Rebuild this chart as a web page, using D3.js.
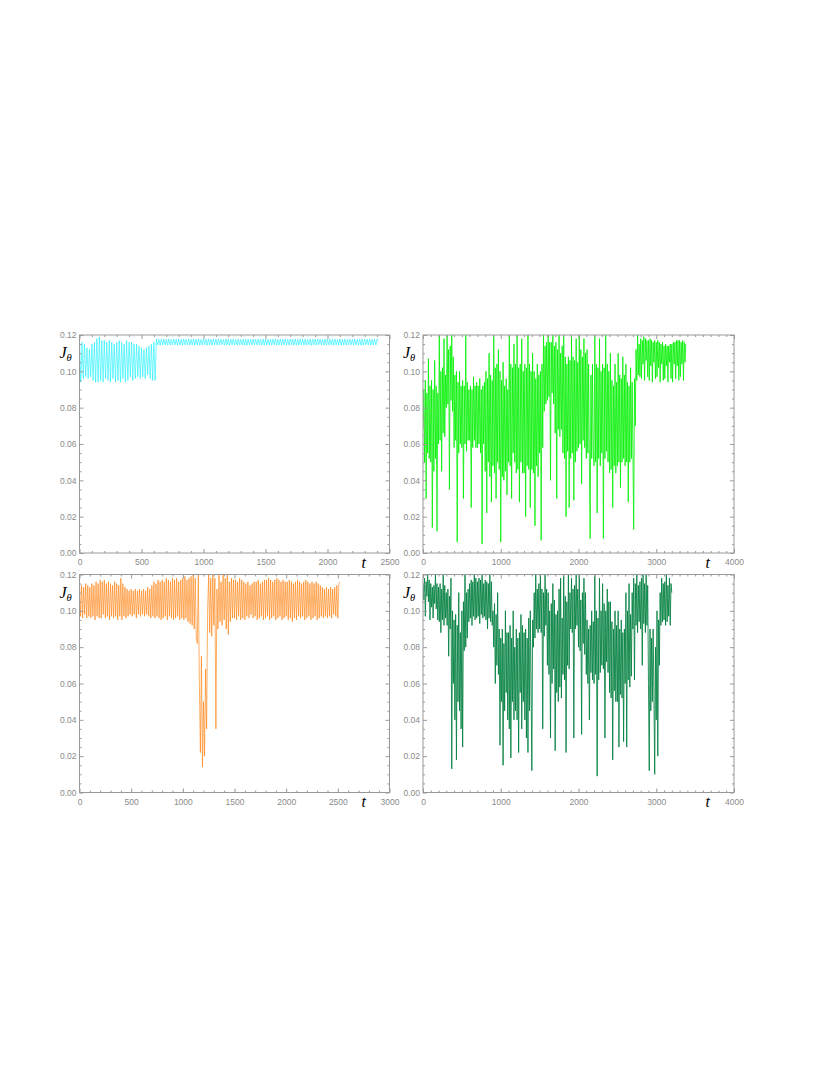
<!DOCTYPE html>
<html>
<head>
<meta charset="utf-8">
<script src="https://cdnjs.cloudflare.com/ajax/libs/d3/7.8.5/d3.min.js"></script>
<style>
	body { margin: 0; background: #fff; }
	.tick text { font-family: "Liberation Sans", Arial, sans-serif; font-size: 8.5px; fill: #8a8a8a; }
	.tick line { stroke: #999; }
	.frame { fill: none; stroke: #999; stroke-width: 1; }
	.lbl { font-family: "Liberation Serif", "DejaVu Serif", serif; font-style: italic; fill: #000; }
</style>
</head>
<body>
<div class="container"></div>
<script>
// J_theta sampled every T_STEP time units, starting at t = 0
const T_STEP = 10;

var cyanJ = [
	.117,.094,.116,.096,.115,.097,.113,.096,.112,.097,
	.115,.095,.116,.094,.118,.094,.119,.095,.117,.094,
	.117,.096,.116,.095,.117,.094,.116,.096,.115,.094,
	.116,.095,.117,.094,.116,.096,.115,.094,.117,.095,
	.116,.097,.116,.095,.115,.096,.115,.097,.114,.096,
	.113,.097,.112,.096,.113,.098,.114,.096,.115,.095,
	.116,.095,.1178,.1145,.1176,.1143,.1178,.1146,.1177,.1144,
	.1177,.1145,.1178,.1144,.1176,.1146,.1178,.1145,.1177,.1143,
	.1178,.1145,.1176,.1144,.1178,.1146,.1177,.1145,.1178,.1144,
	.1176,.1145,.1178,.1143,.1177,.1146,.1178,.1144,.1176,.1145,
	.1178,.1146,.1177,.1144,.1178,.1145,.1176,.1143,.1178,.1146,
	.1177,.1144,.1178,.1145,.1177,.1146,.1176,.1144,.1178,.1145,
	.1178,.1143,.1177,.1146,.1178,.1145,.1176,.1144,.1177,.1146,
	.1176,.1145,.1178,.1144,.1177,.1143,.1178,.1146,.1176,.1145,
	.1178,.1144,.1177,.1146,.1178,.1145,.1177,.1143,.1178,.1144,
	.1177,.1146,.1176,.1145,.1178,.1144,.1177,.1146,.1178,.1143,
	.1176,.1145,.1178,.1144,.1177,.1146,.1178,.1145,.1176,.1144,
	.1178,.1146,.1177,.1143,.1178,.1145,.1176,.1144,.1178,.1146,
	.1177,.1144,.1178,.1145,.1176,.1146,.1178,.1143,.1177,.1145,
	.1178,.1144,.1177,.1146,.1178,.1145,.1176,.1144,.1178,.1143,
	.1176,.1145,.1178,.1146,.1177,.1144,.1178,.1145,.1176,.1146,
	.1178,.1143,.1177,.1145,.1178,.1144,.1176,.1146,.1177,.1145,
	.1177,.1144,.1178,.1146,.1176,.1145,.1178,.1143,.1177,.1144,
	.1178,.1146,.1177,.1145,.1178,.1144,.1176,.1146,.1178,.1145,
	.1177,.1165
];

var greenJ = [
	.068,.090,.050,.095,.030,.088,.055,.107,.052,.092,
	.050,.095,.014,.090,.045,.106,.052,.092,.012,.088,
	.060,.120,.062,.100,.045,.102,.066,.118,.064,.098,
	.080,.120,.082,.112,.035,.114,.084,.120,.078,.108,
	.058,.098,.062,.100,.006,.094,.055,.100,.060,.092,
	.058,.095,.030,.092,.060,.120,.056,.094,.062,.090,
	.062,.092,.025,.090,.058,.097,.062,.092,.058,.094,
	.058,.092,.060,.096,.055,.090,.005,.092,.060,.094,
	.045,.100,.022,.096,.050,.110,.042,.098,.028,.095,
	.048,.120,.044,.102,.030,.104,.050,.112,.046,.100,
	.006,.095,.042,.105,.040,.092,.045,.096,.032,.090,
	.050,.120,.048,.104,.030,.102,.055,.115,.050,.104,
	.044,.120,.046,.102,.028,.104,.050,.118,.044,.100,
	.044,.104,.020,.102,.048,.120,.046,.104,.025,.100,
	.046,.110,.044,.100,.015,.096,.048,.104,.042,.098,
	.055,.100,.007,.104,.058,.120,.078,.114,.082,.116,
	.084,.120,.086,.116,.040,.116,.088,.120,.082,.114,
	.066,.116,.030,.112,.068,.120,.064,.110,.068,.114,
	.055,.120,.052,.108,.020,.104,.056,.108,.025,.106,
	.052,.120,.055,.108,.029,.106,.050,.118,.056,.105,
	.058,.120,.060,.112,.038,.108,.062,.118,.058,.110,
	.052,.112,.055,.104,.050,.008,.098,.052,.104,.056,
	.048,.120,.050,.104,.022,.102,.052,.118,.048,.100,
	.055,.104,.008,.102,.052,.120,.056,.104,.050,.100,
	.044,.110,.046,.095,.025,.092,.048,.104,.044,.094,
	.048,.110,.050,.098,.036,.096,.050,.108,.052,.098,
	.048,.104,.050,.094,.028,.092,.050,.102,.052,.094,
	.055,.013,.096,.070,.112,.095,.120,.098,.115,.097,
	.118,.096,.117,.104,.119,.095,.118,.106,.117,.097,
	.117,.095,.118,.103,.117,.094,.116,.105,.117,.096,
	.116,.097,.117,.102,.116,.094,.115,.104,.116,.095,
	.114,.096,.115,.103,.114,.094,.114,.105,.115,.096,
	.115,.094,.116,.104,.116,.096,.117,.103,.117,.095,
	.117,.097,.116,.104,.117,.095,.116,.105,.115
];

var orangeJ = [
	.116,.097,.114,.096,.113,.098,.115,.096,.114,.097,
	.113,.096,.115,.097,.114,.095,.116,.097,.115,.096,
	.117,.096,.116,.098,.117,.096,.115,.097,.116,.095,
	.115,.097,.114,.096,.116,.097,.115,.095,.114,.097,
	.118,.095,.115,.097,.113,.096,.112,.097,.111,.098,
	.112,.097,.111,.098,.112,.096,.111,.098,.112,.097,
	.111,.098,.112,.097,.111,.098,.113,.097,.112,.096,
	.114,.097,.116,.096,.115,.097,.117,.096,.116,.095,
	.117,.096,.116,.097,.118,.095,.117,.097,.116,.096,
	.118,.095,.117,.096,.118,.097,.116,.095,.117,.096,
	.118,.095,.119,.096,.117,.094,.118,.093,.119,.092,
	.120,.090,.118,.086,.082,.120,.060,.022,.075,.014,
	.050,.020,.068,.035,.100,.120,.088,.118,.086,.120,
	.092,.118,.035,.112,.090,.120,.094,.116,.092,.120,
	.095,.118,.090,.120,.087,.116,.094,.118,.096,.117,
	.096,.117,.095,.116,.097,.118,.095,.117,.096,.116,
	.095,.115,.097,.116,.096,.114,.098,.115,.096,.116,
	.097,.116,.095,.117,.096,.115,.097,.116,.095,.117,
	.096,.117,.097,.118,.095,.117,.096,.116,.097,.117,
	.095,.118,.096,.117,.097,.116,.095,.117,.096,.116,
	.097,.116,.095,.117,.096,.116,.094,.115,.096,.116,
	.095,.117,.097,.116,.096,.115,.097,.116,.095,.117,
	.096,.116,.097,.115,.095,.116,.096,.115,.097,.116,
	.095,.115,.096,.114,.097,.113,.096,.112,.097,.113,
	.096,.112,.097,.113,.096,.112,.098,.113,.097,.114,
	.096,.115,.116
];

var darkGreenJ = [
	.115,.106,.118,.097,.116,.108,.120,.105,.117,.095,
	.115,.102,.113,.096,.114,.104,.120,.101,.115,.095,
	.113,.094,.115,.088,.112,.095,.120,.092,.114,.096,
	.110,.092,.112,.075,.108,.090,.118,.013,.100,.060,
	.095,.040,.098,.018,.092,.050,.110,.045,.088,.035,
	.100,.025,.105,.078,.120,.080,.110,.085,.112,.094,
	.115,.096,.117,.092,.116,.097,.120,.095,.118,.096,
	.116,.097,.118,.093,.117,.098,.120,.096,.115,.097,
	.117,.095,.116,.090,.115,.096,.120,.094,.116,.092,
	.100,.080,.104,.060,.098,.070,.110,.065,.090,.026,
	.085,.050,.090,.015,.082,.045,.100,.055,.088,.040,
	.088,.035,.092,.019,.085,.050,.100,.040,.080,.045,
	.090,.040,.085,.022,.088,.055,.098,.035,.092,.050,
	.088,.040,.090,.030,.085,.022,.096,.045,.100,.060,
	.012,.095,.080,.110,.085,.120,.090,.112,.088,.115,
	.090,.120,.088,.112,.035,.110,.086,.120,.092,.112,
	.070,.110,.065,.100,.030,.104,.060,.115,.068,.106,
	.023,.098,.055,.100,.050,.112,.058,.118,.052,.096,
	.065,.120,.062,.108,.022,.105,.070,.120,.068,.110,
	.090,.118,.088,.112,.030,.114,.090,.120,.092,.112,
	.080,.120,.078,.106,.032,.110,.082,.118,.076,.110,
	.065,.095,.060,.090,.040,.092,.066,.100,.062,.094,
	.060,.120,.065,.100,.009,.096,.062,.118,.066,.100,
	.070,.115,.068,.104,.030,.100,.072,.112,.066,.105,
	.055,.105,.052,.094,.018,.090,.056,.100,.050,.092,
	.050,.100,.025,.090,.054,.095,.052,.088,.028,.090,
	.060,.110,.025,.100,.062,.115,.058,.098,.064,.110,
	.090,.118,.062,.115,.092,.120,.088,.114,.094,.116,
	.090,.118,.070,.120,.093,.115,.088,.120,.092,.114,
	.060,.012,.090,.045,.085,.050,.090,.055,.010,.080,
	.040,.100,.020,.095,.070,.110,.092,.118,.094,.115,
	.095,.116,.092,.120,.094,.114,.097,.118,.092,.115,
	.110
];

var seriesList = [cyanJ, greenJ, orangeJ, darkGreenJ];
var seriesColors = ['#00eeff', '#00f000', '#ff7a00', '#007f3f'];
var lineWidths = [0.55, 0.8, 0.6, 0.85];
var xMax = [2500, 4000, 3000, 4000];
var xMajor = [
	[0, 500, 1000, 1500, 2000, 2500],
	[0, 1000, 2000, 3000, 4000],
	[0, 500, 1000, 1500, 2000, 2500, 3000],
	[0, 1000, 2000, 3000, 4000]
];
var yMajor = [0, 0.02, 0.04, 0.06, 0.08, 0.10, 0.12];

const WIDTH = 830;
const HEIGHT = 1075;
// panel frames: [left, top, width, height]
var frames = [
	[79.5, 335, 310, 218],
	[423, 335, 311, 218],
	[79.5, 574.5, 310, 218],
	[423, 574.5, 311, 218]
];

var onload = function() {
	var svg = d3.select('.container').append('svg')
		.attr('width', WIDTH)
		.attr('height', HEIGHT);
	svg.append('rect').attr('width', WIDTH).attr('height', HEIGHT).attr('fill', '#fff');
	for (var i = 0; i < 4; i++) {
		drawPanel(svg, i);
	}
}

var drawPanel = function(svg, i) {
	var f = frames[i];
	var w = f[2], h = f[3];
	var g = svg.append('g')
		.attr('transform', 'translate(' + f[0] + ',' + f[1] + ')');

	var x = d3.scaleLinear().domain([0, xMax[i]]).range([0, w]);
	var y = d3.scaleLinear().domain([0, 0.12]).range([h, 0]);

	var xMinor = d3.range(0, xMax[i] + 1, 100).filter(function(v) { return xMajor[i].indexOf(v) < 0; });
	var yMinor = d3.range(0, 0.1201, 0.005).filter(function(v, k) { return k % 4 != 0; });

	// data line
	g.append('clipPath').attr('id', 'clip' + i)
		.append('rect').attr('width', w).attr('height', h);
	var line = d3.line()
		.x(function(d, k) { return x(k * T_STEP); })
		.y(function(d) { return y(d); });
	g.append('path')
		.datum(seriesList[i])
		.attr('clip-path', 'url(#clip' + i + ')')
		.attr('fill', 'none')
		.attr('stroke', seriesColors[i])
		.attr('stroke-width', lineWidths[i])
		.attr('stroke-linejoin', 'round')
		.attr('d', line);

	// axes, ticks pointing inward on all four sides
	var axes = [
		[d3.axisBottom(x).tickValues(xMajor[i]).tickSizeInner(-4).tickPadding(6).tickFormat(d3.format('d')), 0, h],
		[d3.axisBottom(x).tickValues(xMinor).tickSizeInner(-2).tickFormat(''), 0, h],
		[d3.axisTop(x).tickValues(xMajor[i]).tickSizeInner(-4).tickFormat(''), 0, 0],
		[d3.axisTop(x).tickValues(xMinor).tickSizeInner(-2).tickFormat(''), 0, 0],
		[d3.axisLeft(y).tickValues(yMajor).tickSizeInner(-4).tickPadding(3).tickFormat(d3.format('.2f')), 0, 0],
		[d3.axisLeft(y).tickValues(yMinor).tickSizeInner(-2).tickFormat(''), 0, 0],
		[d3.axisRight(y).tickValues(yMajor).tickSizeInner(-4).tickFormat(''), w, 0],
		[d3.axisRight(y).tickValues(yMinor).tickSizeInner(-2).tickFormat(''), w, 0]
	];
	axes.forEach(function(a) {
		var ag = g.append('g')
			.attr('transform', 'translate(' + a[1] + ',' + a[2] + ')')
			.call(a[0].tickSizeOuter(0));
		ag.select('.domain').remove();
	});

	g.append('rect').classed('frame', true)
		.attr('width', w)
		.attr('height', h);

	// axis titles
	var jt = g.append('text').classed('lbl', true)
		.attr('x', -20)
		.attr('y', 23)
		.style('font-size', '16px')
		.text('J');
	jt.append('tspan')
		.attr('dy', 3)
		.style('font-size', '10.5px')
		.text('θ');

	g.append('text').classed('lbl', true)
		.attr('x', i % 2 == 0 ? 282 : 282.5)
		.attr('y', h + 14.5)
		.style('font-size', '16px')
		.text('t');
}

window.onload = onload;
</script>
</body>
</html>
